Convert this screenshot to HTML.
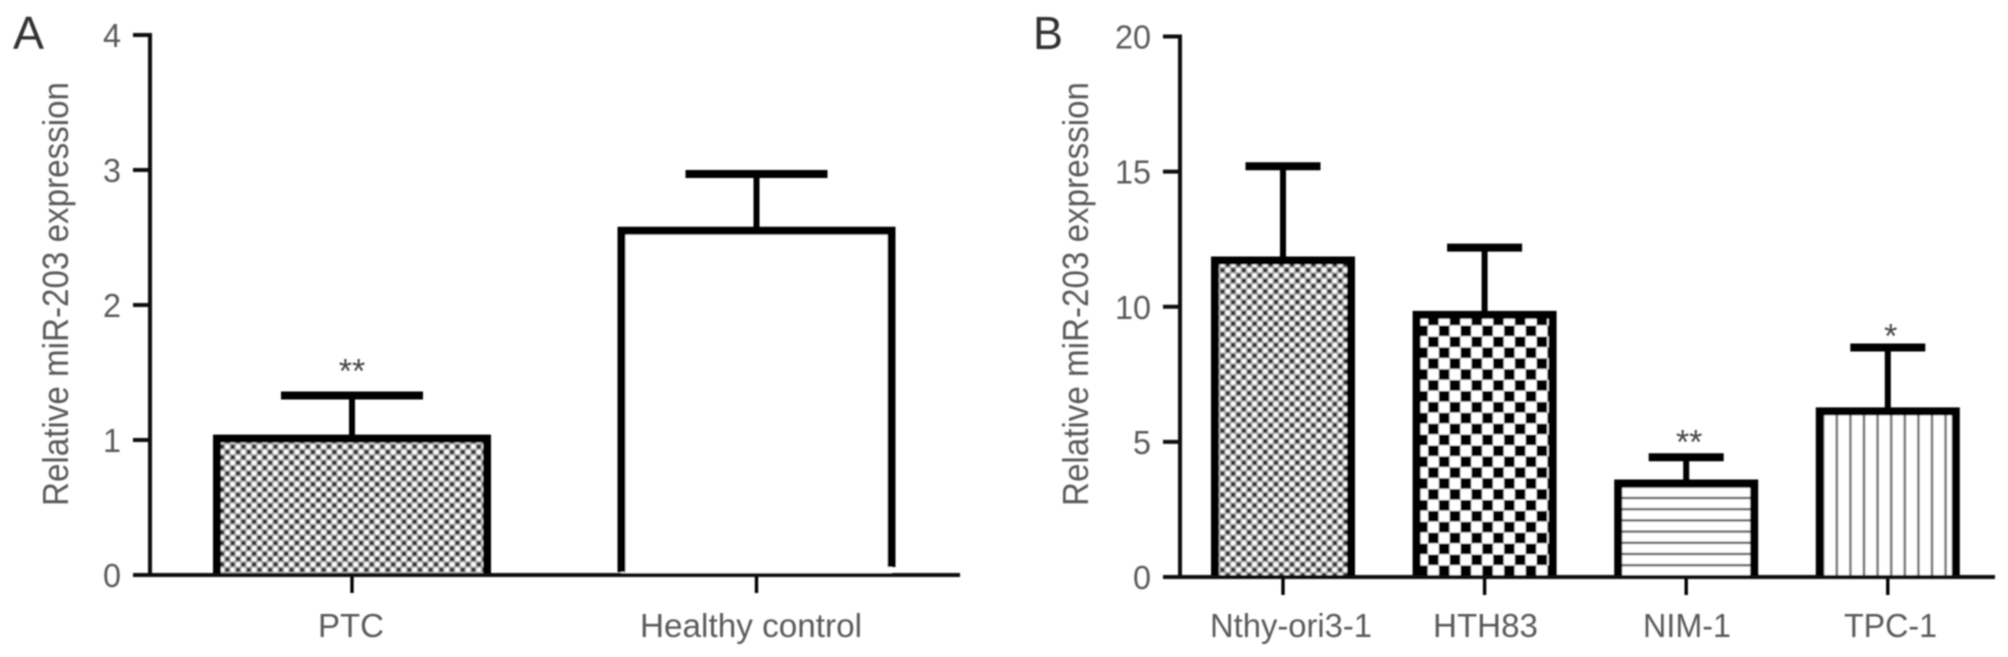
<!DOCTYPE html>
<html lang="en">
<head>
<meta charset="utf-8">
<title>Relative miR-203 expression</title>
<style>
html,body{margin:0;padding:0;background:#fff;width:2008px;height:657px;overflow:hidden}
svg{display:block}
text{font-family:"Liberation Sans",Arial,sans-serif;fill:#5a5a5a}
</style>
</head>
<body>
<svg id="fig" xmlns="http://www.w3.org/2000/svg" width="2008" height="657" viewBox="0 0 2008 657">
  <defs>
    <filter id="soft" filterUnits="userSpaceOnUse" x="0" y="0" width="2008" height="657">
      <feGaussianBlur stdDeviation="0.7"/>
    </filter>
    <pattern id="p-fine" patternUnits="userSpaceOnUse" width="10.7" height="10.7">
      <rect width="10.7" height="10.7" fill="#a8a8a8"/>
      <rect x="0.8" y="0.8" width="3.7" height="3.7" fill="#262626"/>
      <rect x="6.15" y="6.15" width="3.7" height="3.7" fill="#262626"/>
      <rect x="5.95" y="0.6" width="4.1" height="4.1" fill="#fff"/>
      <rect x="0.6" y="5.95" width="4.1" height="4.1" fill="#fff"/>
    </pattern>
    <pattern id="p-check" patternUnits="userSpaceOnUse" x="1428" y="314.7" width="21.7" height="21.8">
      <rect width="21.7" height="21.8" fill="#fff"/>
      <rect x="0" y="0" width="10.6" height="10.6" fill="#000"/>
      <rect x="10.85" y="10.9" width="10.6" height="10.6" fill="#000"/>
    </pattern>
    <pattern id="p-hlines" patternUnits="userSpaceOnUse" width="20" height="11.2">
      <rect width="20" height="11.2" fill="#fff"/>
      <rect x="0" y="4" width="20" height="2.4" fill="#666"/>
    </pattern>
    <pattern id="p-vlines" patternUnits="userSpaceOnUse" x="1831" width="13.6" height="20">
      <rect width="13.6" height="20" fill="#fff"/>
      <rect x="4.5" y="0" width="2.6" height="20" fill="#777"/>
    </pattern>
    <pattern id="p-none" patternUnits="userSpaceOnUse" width="10" height="10">
      <rect width="10" height="10" fill="#fff"/>
    </pattern>
  </defs>
  <rect width="2008" height="657" fill="#fff"/>
  <g id="root" filter="url(#soft)">
    <text x="13" y="49" font-size="46" textLength="31" lengthAdjust="spacingAndGlyphs" style="fill:#333">A</text>
    <text x="1033" y="49" font-size="46" textLength="30" lengthAdjust="spacingAndGlyphs" style="fill:#333">B</text>
    <text transform="translate(68,506) rotate(-90)" font-size="36" textLength="424" lengthAdjust="spacingAndGlyphs">Relative miR-203 expression</text>
    <text transform="translate(1088,506) rotate(-90)" font-size="36" textLength="424" lengthAdjust="spacingAndGlyphs">Relative miR-203 expression</text>
  </g>
</svg>
<script>
var categoriesA = ['PTC', 'Healthy control'];
var valuesA = [1.01, 2.55];
var upperA = [1.33, 2.97];
var marksA = ['**', ''];
var ticksA = [0, 1, 2, 3, 4];

var categoriesB = ['Nthy-ori3-1', 'HTH83', 'NIM-1', 'TPC-1'];
var valuesB = [11.71, 9.7, 3.46, 6.13];
var upperB = [15.2, 12.19, 4.43, 8.49];
var marksB = ['', '', '**', '*'];
var ticksB = [0, 5, 10, 15, 20];

var NS = 'http://www.w3.org/2000/svg';
var root = document.getElementById('root');

function make(tag, attrs, text) {
  var el = document.createElementNS(NS, tag);
  for (var k in attrs) { el.setAttribute(k, attrs[k]); }
  if (text !== undefined) { el.textContent = text; }
  root.appendChild(el);
  return el;
}

function drawPanel(cfg) {
  var y = function (v) { return cfg.y0 - (v / cfg.yMax) * (cfg.y0 - cfg.yTop); };
  var x = function (i) { return cfg.x0 + cfg.step * i; };
  var el;

  cfg.categories.forEach(function (cat, i) {
    var cx = x(i);
    var top = y(cfg.values[i]);
    var cap = y(cfg.upper[i]);
    var l = cx - cfg.barHalf;
    var r = cx + cfg.barHalf;

    el = make('line', {x1: cx, x2: cx, y1: cap, y2: top, stroke: '#000', 'stroke-width': 6});
    
    

    el = make('line', {x1: cx - cfg.capHalf, x2: cx + cfg.capHalf, y1: cap, y2: cap, stroke: '#000', 'stroke-width': 8});
    
    

    el = make('rect', {x: l, y: top, width: r - l, height: Math.max(0, cfg.y0 - top), fill: 'url(#' + cfg.fills[i] + ')'});
    
    

    var leftEnd = cfg.open[i] ? cfg.y0 - 3 : cfg.y0;
    var rightEnd = cfg.open[i] ? cfg.y0 - 8 : cfg.y0;
    el = make('path', {d: 'M' + l + ' ' + leftEnd + ' V' + top + ' H' + r + ' V' + rightEnd, fill: 'none', stroke: '#000', 'stroke-width': cfg.barStroke});
    
    

    el = make('line', {x1: cx, x2: cx, y1: cfg.y0, y2: cfg.y0 + 18, stroke: '#000', 'stroke-width': 3.4});
    
    

    el = make('text', {x: cfg.labelX[i], y: 637, 'font-size': 33, textLength: cfg.labelW[i], lengthAdjust: 'spacingAndGlyphs'}, cat);
    
    

    if (cfg.marks[i]) {
      var gap = cfg.marks[i].length > 1 ? cfg.markGapDouble : cfg.markGapSingle;
      el = make('text', {x: cx + cfg.markDx, y: cap - gap, 'font-size': 34, 'text-anchor': 'middle', style: 'fill:#444'}, cfg.marks[i]);
      
      
    }
  });

  el = make('line', {x1: cfg.axisX, x2: cfg.axisX, y1: cfg.yTop - 2, y2: cfg.y0 + 2, stroke: '#111', 'stroke-width': 4});
  
  

  el = make('line', {x1: cfg.axisX - 17, x2: cfg.axisEnd, y1: cfg.y0, y2: cfg.y0, stroke: '#111', 'stroke-width': 4});
  
  

  cfg.ticks.forEach(function (t, i) {
    el = make('line', {x1: cfg.axisX - 17, x2: cfg.axisX, y1: y(t), y2: y(t), stroke: '#111', 'stroke-width': 4});
    
    

    var label = String(t);
    el = make('text', {x: cfg.axisX - 29 - label.length * 18, y: y(t) + 12, 'font-size': 33, textLength: label.length * 18, lengthAdjust: 'spacingAndGlyphs'}, label);
    
    
  });
}

drawPanel({
  id: 'a', categories: categoriesA, values: valuesA, upper: upperA, marks: marksA, ticks: ticksA,
  yMax: 4, y0: 575, yTop: 35, x0: 352, step: 404.5, barHalf: 135, capHalf: 71, barStroke: 8,
  axisX: 150, axisEnd: 960, fills: ['p-fine', 'p-none'], open: [false, true],
  labelX: [318, 640], labelW: [66, 222], markGapDouble: 13, markGapSingle: 8, markDx: 0
});

drawPanel({
  id: 'b', categories: categoriesB, values: valuesB, upper: upperB, marks: marksB, ticks: ticksB,
  yMax: 20, y0: 577, yTop: 36.5, x0: 1283, step: 201.6, barHalf: 68, capHalf: 37.5, barStroke: 8,
  axisX: 1180, axisEnd: 1995, fills: ['p-fine', 'p-check', 'p-hlines', 'p-vlines'], open: [false, false, false, false],
  labelX: [1210, 1433, 1643, 1844], labelW: [162, 105, 88, 93], markGapDouble: 4, markGapSingle: 0, markDx: 3
});
</script>
</body>
</html>
